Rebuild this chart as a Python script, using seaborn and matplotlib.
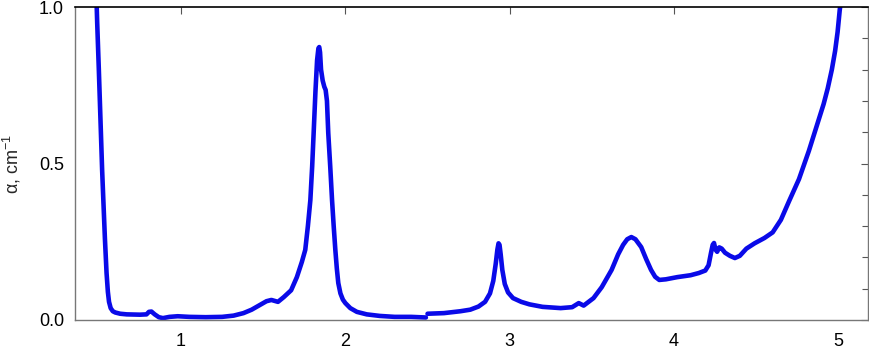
import matplotlib
matplotlib.use("Agg")
import matplotlib.pyplot as plt
from matplotlib.ticker import MultipleLocator
import seaborn as sns
import pandas as pd

# Segment 1 (photon energy, eV; absorption coefficient, cm^-1)
x_seg1 = [0.486, 0.49, 0.50, 0.51, 0.52, 0.53, 0.537, 0.547, 0.555, 0.562, 0.572, 0.585,
          0.60, 0.63, 0.67, 0.75, 0.79, 0.805, 0.82, 0.84, 0.865, 0.89, 0.93, 0.98,
          1.05, 1.15, 1.25, 1.32, 1.38, 1.43, 1.48, 1.52, 1.55, 1.59, 1.625, 1.67,
          1.705, 1.735, 1.756, 1.772, 1.787, 1.798, 1.807, 1.818, 1.828, 1.836, 1.841,
          1.846, 1.852, 1.862, 1.872, 1.880, 1.888, 1.896, 1.908, 1.919, 1.929, 1.939,
          1.948, 1.957, 1.97, 1.985, 2.00, 2.03, 2.07, 2.13, 2.21, 2.30, 2.40, 2.49]
y_seg1 = [1.02, 0.95, 0.80, 0.64, 0.48, 0.35, 0.26, 0.15, 0.09, 0.058, 0.038, 0.028,
          0.024, 0.020, 0.018, 0.017, 0.018, 0.026, 0.027, 0.018, 0.009, 0.006, 0.010, 0.012,
          0.010, 0.009, 0.010, 0.014, 0.022, 0.033, 0.048, 0.060, 0.064, 0.058, 0.073, 0.095,
          0.137, 0.185, 0.224, 0.30, 0.383, 0.49, 0.597, 0.73, 0.83, 0.868, 0.872,
          0.855, 0.80, 0.765, 0.745, 0.735, 0.70, 0.597, 0.49, 0.383, 0.30, 0.224,
          0.165, 0.118, 0.085, 0.065, 0.054, 0.038, 0.026, 0.018, 0.013, 0.010, 0.010, 0.008]

# Segment 2
x_seg2 = [2.50, 2.60, 2.70, 2.76, 2.81, 2.85, 2.88, 2.90, 2.915, 2.925, 2.932, 2.938,
          2.945, 2.955, 2.97, 2.99, 3.02, 3.07, 3.12, 3.20, 3.31, 3.38, 3.42, 3.45,
          3.51, 3.56, 3.62, 3.66, 3.69, 3.715, 3.74, 3.765, 3.80, 3.83, 3.86, 3.885,
          3.91, 3.95, 4.02, 4.10, 4.15, 4.19, 4.21, 4.225, 4.235, 4.243, 4.252, 4.262,
          4.275, 4.29, 4.31, 4.34, 4.37, 4.40, 4.44, 4.49, 4.55, 4.60, 4.65, 4.70,
          4.76, 4.82, 4.88, 4.91, 4.935, 4.96, 4.98, 4.995, 5.008, 5.018]
y_seg2 = [0.020, 0.022, 0.028, 0.033, 0.043, 0.058, 0.085, 0.125, 0.18, 0.225, 0.245, 0.24,
          0.21, 0.16, 0.115, 0.088, 0.070, 0.058, 0.050, 0.042, 0.038, 0.041, 0.054, 0.046,
          0.070, 0.105, 0.16, 0.21, 0.24, 0.258, 0.265, 0.258, 0.233, 0.195, 0.16, 0.138,
          0.128, 0.130, 0.137, 0.143, 0.150, 0.158, 0.175, 0.215, 0.24, 0.246, 0.225, 0.218,
          0.232, 0.228, 0.215, 0.205, 0.198, 0.205, 0.228, 0.245, 0.262, 0.28, 0.32, 0.38,
          0.45, 0.54, 0.64, 0.69, 0.74, 0.80, 0.86, 0.92, 0.99, 1.03]

x_ticks = [1, 2, 3, 4, 5]
y_ticks = [0.0, 0.5, 1.0]
y_ticklabels = ["0.0", "0.5", "1.0"]

sns.set_style("white")
plt.rcParams["font.family"] = ["Liberation Sans", "DejaVu Sans"]

fig = plt.figure(figsize=(8.7, 3.49), dpi=100)
ax = fig.add_axes([75 / 870, 29 / 349, 793 / 870, 313 / 349])

color = "#0a0ae8"
df1 = pd.DataFrame({"x": x_seg1, "y": y_seg1})
df2 = pd.DataFrame({"x": x_seg2, "y": y_seg2})
for df in (df1, df2):
    sns.lineplot(data=df, x="x", y="y", ax=ax, color=color, linewidth=3.3,
                 estimator=None, sort=False, solid_joinstyle="round",
                 solid_capstyle="round")

ax.set_xlim(0.355, 5.18)
ax.set_ylim(0, 1.0)
ax.set_xticks(x_ticks)
ax.set_xticklabels([str(t) for t in x_ticks])
ax.set_yticks(y_ticks)
ax.set_yticklabels(y_ticklabels)
ax.yaxis.set_minor_locator(MultipleLocator(0.1))
ax.tick_params(axis="both", which="both", direction="in", top=True, right=True,
               colors="#555555", labelcolor="black", labelsize=13)
ax.tick_params(axis="both", which="major", length=5, width=0.8)
ax.tick_params(axis="y", which="minor", length=4, width=0.8)
ax.tick_params(axis="x", which="major", pad=9)
ax.tick_params(axis="y", which="major", pad=8)
ax.set_xlabel("")
ax.set_ylabel(r"α, cm$^{\mathregular{-1}}$", fontsize=13)
ax.yaxis.set_label_coords(-0.066, 0.5)

for side in ["left", "bottom", "right"]:
    ax.spines[side].set_color("#777777")
    ax.spines[side].set_linewidth(1.0)
ax.spines["top"].set_color("black")
ax.spines["top"].set_linewidth(1.2)

fig.savefig("out.png", dpi=100)
